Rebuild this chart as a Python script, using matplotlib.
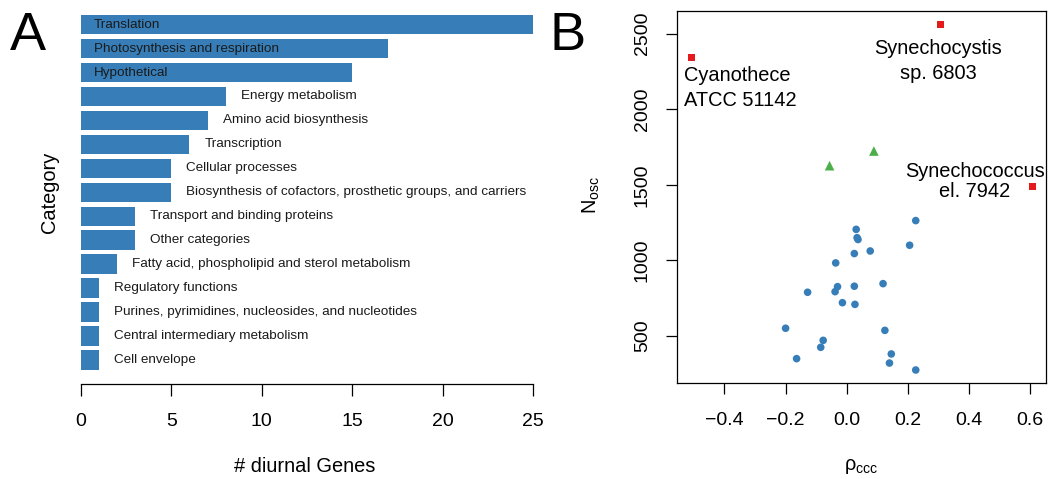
import numpy as np
import matplotlib
matplotlib.use("Agg")
import matplotlib.pyplot as plt

plt.rcParams["font.family"] = ["Liberation Sans", "DejaVu Sans"]
plt.rcParams["mathtext.fontset"] = "custom"
plt.rcParams["mathtext.rm"] = "Liberation Sans"
plt.rcParams["mathtext.it"] = "Liberation Sans"

# -----------------------------
# Panel A: diurnal genes per category
# -----------------------------
categories = [
    "Translation",
    "Photosynthesis and respiration",
    "Hypothetical",
    "Energy metabolism",
    "Amino acid biosynthesis",
    "Transcription",
    "Cellular processes",
    "Biosynthesis of cofactors, prosthetic groups, and carriers",
    "Transport and binding proteins",
    "Other categories",
    "Fatty acid, phospholipid and sterol metabolism",
    "Regulatory functions",
    "Purines, pyrimidines, nucleosides, and nucleotides",
    "Central intermediary metabolism",
    "Cell envelope",
]
n_genes = [25, 17, 15, 8, 7, 6, 5, 5, 3, 3, 2, 1, 1, 1, 1]

# -----------------------------
# Panel B: correlation vs. number of oscillating genes
# -----------------------------
rho_blue = [0.226, 0.031, 0.034, 0.037, 0.206, 0.077, 0.025, -0.036, 0.119,
            -0.030, 0.025, -0.038, -0.128, -0.014, 0.027, -0.200, 0.125,
            -0.077, -0.085, 0.146, -0.164, 0.140, 0.226]
nosc_blue = [1263, 1205, 1150, 1138, 1100, 1062, 1045, 983, 846,
             826, 829, 793, 789, 720, 709, 551, 537,
             471, 425, 381, 350, 321, 275]

rho_green = [-0.056, 0.089]
nosc_green = [1626, 1723]

rho_red = [-0.509, 0.307, 0.608]
nosc_red = [2343, 2561, 1490]

blue = "#377EB8"
red = "#E41A1C"
green = "#4DAF4A"

W, H = 1051, 479
fig = plt.figure(figsize=(W / 100, H / 100), dpi=100)


def box(x0, y0, x1, y1):
    # pixel box (top-left origin) -> figure fraction rect
    return [x0 / W, 1 - y1 / H, (x1 - x0) / W, (y1 - y0) / H]


def fpos(x, y):
    return x / W, 1 - y / H


# ---- A ----
axA = fig.add_axes(box(81, 10, 533, 384.3))
ypos = np.arange(len(categories))
axA.barh(ypos, n_genes, height=0.81, color=blue)
axA.set_xlim(0, 25)
axA.set_ylim(15.02, -0.612)
for s in ["top", "right", "left"]:
    axA.spines[s].set_visible(False)
axA.spines["bottom"].set_bounds(0, 25)
axA.spines["bottom"].set_linewidth(0.9)
axA.set_yticks([])
axA.set_xticks([0, 5, 10, 15, 20, 25])
axA.tick_params(axis="x", direction="out", length=8.6, width=0.9, pad=12,
                labelsize=14)

for y, name, v in zip(ypos, categories, n_genes):
    if v > 10:
        axA.annotate(name, (0, y), xytext=(9.2, 0), textcoords="offset points",
                     ha="left", va="center", fontsize=9.7, color="#1a1a1a")
    else:
        axA.annotate(name, (v, y), xytext=(10.8, 0), textcoords="offset points",
                     ha="left", va="center", fontsize=9.7, color="#1a1a1a")

fig.text(*fpos(49, 192), "Category", rotation=90, ha="center", va="center",
         fontsize=14.4)
fig.text(*fpos(305, 467), "# diurnal Genes", ha="center", va="center",
         fontsize=14.4)
fig.text(*fpos(27.5, 50.5), "A", ha="center", va="baseline", fontsize=39)

# ---- B ----
axB = fig.add_axes(box(677.3, 10.7, 1046, 383.3))
axB.scatter(rho_blue, nosc_blue, s=30, color=blue, edgecolors="none", zorder=3)
axB.scatter(rho_green, nosc_green, s=48, marker="^", color=green,
            edgecolors="none", zorder=3)
axB.scatter(rho_red, nosc_red, s=24, marker="s", color=red,
            edgecolors="none", zorder=3)
axB.set_xlim(-0.5545, 0.6524)
axB.set_ylim(187, 2651)
axB.set_xticks([-0.4, -0.2, 0.0, 0.2, 0.4, 0.6])
axB.set_xticklabels(["\u22120.4", "\u22120.2", "0.0", "0.2", "0.4", "0.6"])
axB.set_yticks([500, 1000, 1500, 2000, 2500])
axB.tick_params(axis="x", direction="out", length=8, width=0.9, pad=13,
                labelsize=14)
axB.tick_params(axis="y", direction="out", length=8, width=0.9, pad=11,
                labelsize=14)
for lab in axB.get_yticklabels():
    lab.set_rotation(90)
    lab.set_va("center")
for s in axB.spines.values():
    s.set_linewidth(0.9)

txt = dict(fontsize=14.4, va="baseline")
axB.text(-0.5316, 2186, "Cyanothece", ha="left", **txt)
axB.text(-0.5316, 2021, "ATCC 51142", ha="left", **txt)
axB.text(0.299, 2363, "Synechocystis", ha="center", **txt)
axB.text(0.299, 2198, "sp. 6803", ha="center", **txt)
axB.text(0.420, 1548, "Synechococcus", ha="center", **txt)
axB.text(0.420, 1419, "el. 7942", ha="center", **txt)

fig.text(*fpos(591, 195), r"$\mathregular{N_{osc}}$", rotation=90,
         ha="center", va="center", fontsize=14.4)
fig.text(*fpos(861, 467), r"$\mathregular{\rho_{ccc}}$", ha="center",
         va="center", fontsize=14.4)
fig.text(*fpos(568, 50), "B", ha="center", va="baseline", fontsize=39)

fig.savefig("out.png", dpi=100)
